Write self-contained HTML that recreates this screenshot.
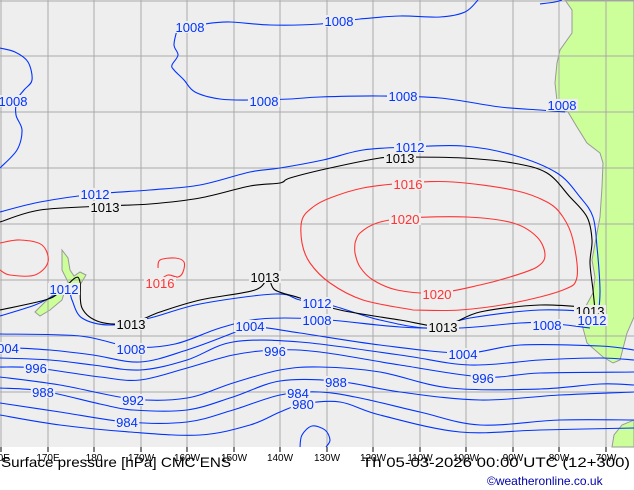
<!DOCTYPE html>
<html><head><meta charset="utf-8"><style>
html,body{margin:0;padding:0;background:#fff;width:634px;height:490px;overflow:hidden}
svg{display:block}
text{font-family:"Liberation Sans",sans-serif}
</style></head><body>
<svg id="map" width="634" height="490" viewBox="0 0 634 490">
<rect x="0" y="0" width="634" height="447" fill="#eeeeee"/>
<polygon fill="#ccff99" stroke="#999" stroke-width="1" points="565,0 572,10 572,33 560,50 557,63 555,83 558,110 568,112 577,127 587,143 600,153 603,163 602,187 600,217 597,233 592,260 595,277 593,293 580,317 587,343 603,357 613,363 620,360 627,333 634,317 634,0"/>
<polygon fill="#ccff99" stroke="#999" stroke-width="1" points="62,250 68,258 70,270 74,276 80,272 86,275 80,285 76,290 70,292 68,282 62,270"/>
<polygon fill="#ccff99" stroke="#999" stroke-width="1" points="58,290 66,287 62,300 50,310 40,316 35,312 45,302"/>
<polygon fill="#ccff99" stroke="#999" stroke-width="1" points="612,447 614,435 622,425 634,420 634,447"/>
<g id="grid"></g>
<g id="contours"></g>
<g id="labels"></g>
<g id="axis"></g>
<text x="1" y="467" font-size="14" fill="#000" textLength="230" lengthAdjust="spacingAndGlyphs">Surface pressure [hPa] CMC ENS</text>
<text x="362" y="467" font-size="14" fill="#000" textLength="268" lengthAdjust="spacingAndGlyphs">Th 05-03-2026 00:00 UTC (12+300)</text>
<text x="487" y="485" font-size="12" fill="#0000aa">©weatheronline.co.uk</text>
</svg>
<script>
const lonLabels=["70E","170E","180","170W","160W","150W","140W","130W","120W","110W","100W","90W","80W","70W"];
const gridX=[1,48,94,141,187,234,280,327,373,420,466,513,559,606];
const gridY=[1,56,112,168,224,280,336,392];
const levels=[1008,1008,1008,1012,1013,1012,1013,1016,1016,1016,1020,1008,1004,1000,996,992,988,984,980,976,1008];
const colors=["#0033ff","#0033ff","#0033ff","#0033ff","#000","#0033ff","#000","#ff3333","#ff3333","#ff3333","#ff3333","#0033ff","#0033ff","#0033ff","#0033ff","#0033ff","#0033ff","#0033ff","#0033ff","#0033ff","#0033ff"];
const lines=[
[[177,30],[205,24],[230,22],[270,25],[320,24],[360,19],[400,16],[440,17],[465,12],[478,0]],
[[177,30],[174,45],[178,55],[172,65],[174,70],[184,80],[195,92],[220,99],[250,100],[290,99],[320,97],[380,96],[440,98],[500,107],[540,110],[565,112]],
[[0,48],[15,52],[28,62],[32,80],[24,90],[17,100],[16,115],[22,130],[17,150],[0,168]],
[[0,212],[40,202],[95,194],[150,190],[200,185],[250,172],[280,168],[323,160],[363,150],[410,147],[463,146],[513,155],[557,173],[580,197],[593,217],[597,247],[600,290],[598,318]],
[[0,222],[40,210],[105,206],[150,204],[200,198],[250,186],[280,183],[290,178],[330,168],[380,158],[403,157],[463,158],[513,163],[547,173],[570,197],[587,217],[592,240],[590,263],[593,290],[595,310]],
[[598,312],[540,310],[470,318],[430,328],[380,320],[330,305],[300,300],[275,294],[200,304],[150,318],[110,325],[82,318],[72,300],[68,288],[55,295],[35,305],[0,316]],
[[595,308],[540,305],[480,312],[443,326],[400,320],[340,310],[300,298],[275,290],[268,278],[255,290],[200,300],[160,312],[131,323],[100,322],[82,308],[80,282],[75,278],[60,292],[45,300],[0,310]],
[[413,310],[363,300],[330,283],[310,263],[302,243],[302,220],[313,207],[330,198],[363,188],[407,183],[453,182],[513,190],[547,202],[563,217],[573,240],[577,277],[563,290],[513,303],[460,310],[413,310]],
[[0,243],[20,240],[42,245],[48,262],[35,275],[10,275],[0,270]],
[[158,268],[160,260],[175,258],[184,262],[183,272],[178,277],[168,275],[160,280]],
[[355,243],[360,233],[377,223],[407,218],[467,217],[513,223],[537,237],[545,255],[537,267],[510,277],[480,285],[437,293],[397,290],[373,280],[360,267],[355,253],[355,243]],
[[0,334],[80,336],[132,347],[175,344],[220,328],[260,319],[317,319],[400,327],[460,328],[520,323],[547,323],[590,328]],
[[0,347],[50,350],[93,355],[140,362],[187,350],[233,333],[248,326],[300,333],[380,345],[463,353],[520,345],[600,346],[634,350]],
[[0,358],[50,360],[93,365],[140,370],[187,360],[233,342],[300,342],[400,355],[470,365],[540,360],[600,358],[634,360]],
[[0,367],[36,368],[100,377],[140,380],[187,368],[233,355],[275,350],[320,352],[400,365],[483,377],[540,373],[634,372]],
[[0,377],[60,385],[133,399],[187,398],[233,383],[280,370],[320,367],[380,372],[450,388],[540,389],[600,384],[634,385]],
[[0,388],[43,391],[100,404],[133,410],[187,410],[233,397],[280,381],[336,381],[400,392],[480,400],[560,395],[634,392]],
[[0,403],[60,412],[127,422],[187,422],[233,410],[280,395],[320,392],[360,398],[420,412],[480,425],[560,420],[634,420]],
[[0,415],[60,425],[130,432],[200,435],[250,425],[280,412],[303,404],[340,402],[380,415],[460,432],[540,430],[634,428]],
[[300,447],[302,435],[312,426],[325,430],[330,440],[326,447]],
[[540,4],[555,2],[562,0]]
];
const labelText=["1008","1008","1008","1008","1008","1008","1012","1013","1012","1013","1016","1020","1020","1016","1016","1012","1013","1013","1013","1012","1013","1012","1008","1008","1008","1004","1004","004","996","996","996","992","988","988","984","984","980"];
const labelPos=[[190,27],[339,21],[264,101],[403,96],[562,105],[13,101],[95,194],[105,207],[410,147],[400,158],[408,184],[405,219],[437,294],[160,283],[160,283],[317,303],[443,327],[265,277],[131,324],[64,289],[590,311],[592,320],[131,349],[317,320],[547,325],[250,326],[463,354],[8,348],[36,368],[275,351],[483,378],[133,400],[43,392],[336,382],[127,422],[298,393],[303,404]];
const labelCol=["#0033ff","#0033ff","#0033ff","#0033ff","#0033ff","#0033ff","#0033ff","#000","#0033ff","#000","#ff3333","#ff3333","#ff3333","#ff3333","#ff3333","#0033ff","#000","#000","#000","#0033ff","#000","#0033ff","#0033ff","#0033ff","#0033ff","#0033ff","#0033ff","#0033ff","#0033ff","#0033ff","#0033ff","#0033ff","#0033ff","#0033ff","#0033ff","#0033ff","#0033ff"];
const NS="http://www.w3.org/2000/svg";
const g=document.getElementById('grid');
for(const x of gridX){const l=document.createElementNS(NS,'line');l.setAttribute('x1',x);l.setAttribute('x2',x);l.setAttribute('y1',0);l.setAttribute('y2',447);l.setAttribute('stroke','#aaa');


g.appendChild(l);}
for(const y of gridY){const l=document.createElementNS(NS,'line');l.setAttribute('x1',0);l.setAttribute('x2',634);l.setAttribute('y1',y);l.setAttribute('y2',y);l.setAttribute('stroke','#aaa');


g.appendChild(l);}
function smooth(p){let d='M'+p[0][0]+','+p[0][1];for(let i=0;i<p.length-1;i++){const p0=p[i-1]||p[i],p1=p[i],p2=p[i+1],p3=p[i+2]||p2;
d+=' C'+(p1[0]+(p2[0]-p0[0])/6).toFixed(1)+','+(p1[1]+(p2[1]-p0[1])/6).toFixed(1)+' '+(p2[0]-(p3[0]-p1[0])/6).toFixed(1)+','+(p2[1]-(p3[1]-p1[1])/6).toFixed(1)+' '+p2[0]+','+p2[1];}return d;}
const cg=document.getElementById('contours');
lines.forEach((pts,i)=>{const p=document.createElementNS(NS,'path');p.setAttribute('d',smooth(pts));p.setAttribute('fill','none');p.setAttribute('stroke',colors[i]);p.setAttribute('stroke-width','1.1');


cg.appendChild(p);});
const lg=document.getElementById('labels');
labelText.forEach((t,i)=>{const [x,y]=labelPos[i];const w=t.length*7.5+2;
const r=document.createElementNS(NS,'rect');r.setAttribute('x',x-w/2);r.setAttribute('y',y-6);r.setAttribute('width',w);r.setAttribute('height',12);r.setAttribute('fill','#eeeeee');


lg.appendChild(r);
const tx=document.createElementNS(NS,'text');tx.setAttribute('x',x);tx.setAttribute('y',y+5);tx.setAttribute('text-anchor','middle');tx.setAttribute('font-size','13');tx.setAttribute('fill',labelCol[i]);tx.textContent=t;


lg.appendChild(tx);});
const ag=document.getElementById('axis');
lonLabels.forEach((t,i)=>{const x=gridX[i];const l=document.createElementNS(NS,'line');l.setAttribute('x1',x);l.setAttribute('x2',x);l.setAttribute('y1',447);l.setAttribute('y2',452);l.setAttribute('stroke','#000');


ag.appendChild(l);
const tx=document.createElementNS(NS,'text');tx.setAttribute('x',x);tx.setAttribute('y',461);tx.setAttribute('text-anchor','middle');tx.setAttribute('font-size','10');tx.setAttribute('fill','#000');tx.textContent=t;


ag.appendChild(tx);});
</script>
</body></html>
